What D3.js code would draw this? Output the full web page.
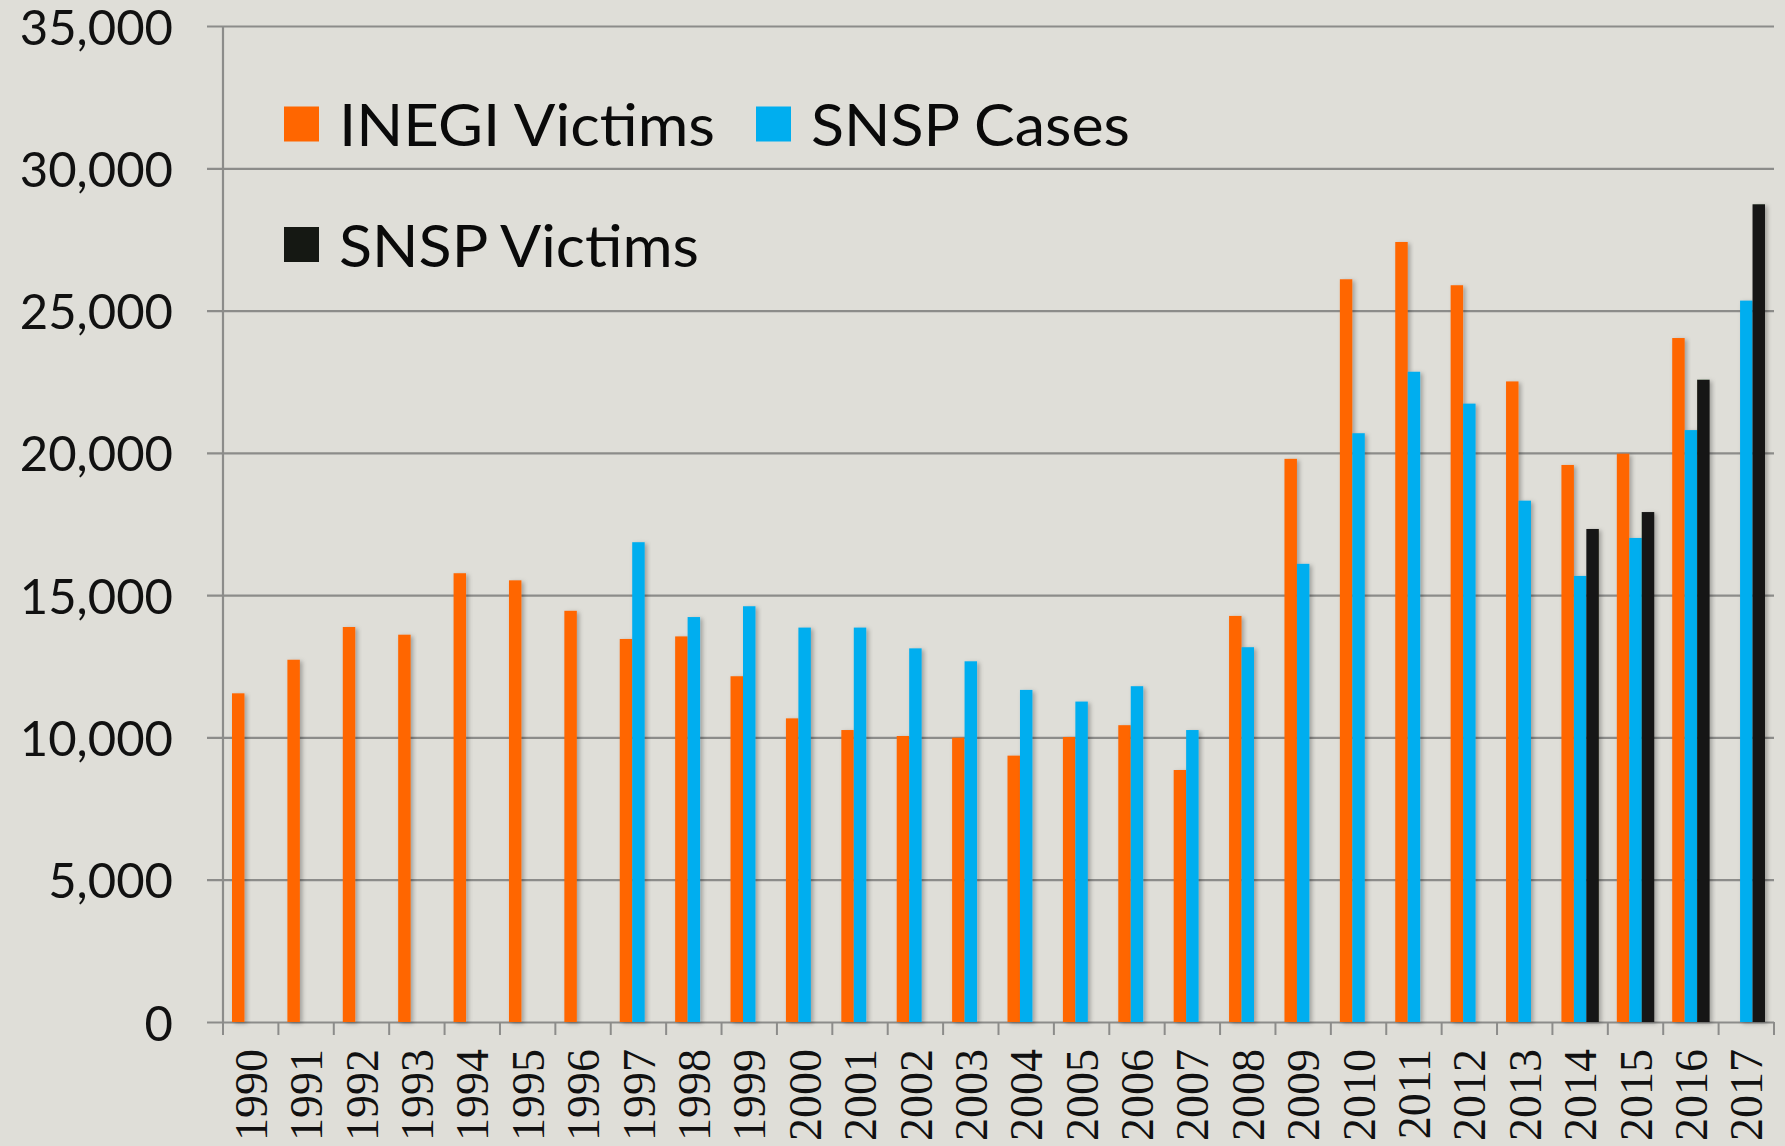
<!DOCTYPE html>
<html>
<head>
<meta charset="utf-8">
<script src="https://cdn.jsdelivr.net/npm/d3@7"></script>
<style>
  html, body { margin: 0; padding: 0; background: #dfded8; }
  svg { display: block; }
</style>
</head>
<body>
<svg id="chart" width="1785" height="1146"></svg>
<script>
const years = [1990,1991,1992,1993,1994,1995,1996,1997,1998,1999,2000,2001,2002,2003,2004,2005,2006,2007,2008,2009,2010,2011,2012,2013,2014,2015,2016,2017];
const inegiVictims = [11550,12730,13880,13610,15770,15520,14450,13460,13550,12150,10670,10260,10050,9990,9360,10015,10430,8855,14270,19790,26100,27410,25890,22510,19575,19970,24035,null];
const snspCases = [null,null,null,null,null,null,null,16860,14230,14610,13860,13860,13130,12675,11670,11260,11800,10260,13170,16100,20690,22850,21730,18320,15675,17010,20800,25350];
const snspVictims = [null,null,null,null,null,null,null,null,null,null,null,null,null,null,null,null,null,null,null,null,null,null,null,null,17325,17920,22570,28735];
const seriesNames = ["INEGI Victims","SNSP Cases","SNSP Victims"];
const seriesColors = ["#ff6600","#00aeef","#151813"];
const yTicks = [0,5000,10000,15000,20000,25000,30000,35000];

(function () {
const svg = d3.select("#chart");
const mLeft = 223, mRight = 1774, mTop = 26, mBottom = 1022;

const defs = svg.append("defs");
const f = defs.append("filter").attr("id","shadow").attr("x","-30%").attr("y","-5%").attr("width","180%").attr("height","115%");
f.append("feDropShadow").attr("dx",2.5).attr("dy",1.5).attr("stdDeviation",2).attr("flood-color","#000").attr("flood-opacity",0.28);

const y = d3.scaleLinear().domain([0,35000]).range([mBottom, mTop]);
const x0 = d3.scaleBand().domain(years).range([mLeft, mRight]).paddingInner(0.325).paddingOuter(0.1625);
const x1 = d3.scaleBand().domain(seriesNames).range([0, x0.bandwidth()]);
const xa = d3.scaleBand().domain(years).range([mLeft, mRight]);

// y axis with gridlines
const yAxis = svg.append("g").attr("transform", `translate(${mLeft},0)`)
  .call(d3.axisLeft(y).tickValues(yTicks).tickSizeInner(-(mRight-mLeft)).tickSizeOuter(0).tickPadding(50).tickFormat(d3.format(",")));
yAxis.select(".domain").remove();
yAxis.selectAll(".tick line").attr("x1",-16).attr("stroke","#8c8c8a").attr("stroke-width",2.2);
yAxis.selectAll(".tick text").attr("font-family","Lato, 'Open Sans', sans-serif").attr("font-size",49).attr("fill","#111").attr("dy","0.37em");

// vertical axis line
svg.append("line").attr("x1",mLeft).attr("x2",mLeft).attr("y1",mTop).attr("y2",mBottom)
  .attr("stroke","#8c8c8a").attr("stroke-width",2.2);

// x boundary ticks
svg.append("g").selectAll("line").data(years.concat(["end"])).join("line")
  .attr("x1", d => d === "end" ? mRight : xa(d)).attr("x2", d => d === "end" ? mRight : xa(d))
  .attr("y1", mBottom).attr("y2", mBottom + 13)
  .attr("stroke","#8c8c8a").attr("stroke-width",2);

// x labels
const xAxis = svg.append("g").attr("transform", `translate(0,${mBottom})`)
  .call(d3.axisBottom(xa).tickSize(0).tickPadding(0));
xAxis.select(".domain").remove();
xAxis.selectAll(".tick text")
  .attr("font-family","'Liberation Serif', 'DejaVu Serif', serif").attr("font-size",46).attr("fill","#111")
  .attr("text-anchor","end").attr("transform","translate(0,27) rotate(-90)")
  .attr("dy","0.35em").attr("y",0).attr("x",0);

// bars
const data = years.map((yr,i) => ({year: yr, values: [inegiVictims[i], snspCases[i], snspVictims[i]]}));
const groups = svg.append("g").selectAll("g").data(data).join("g")
  .attr("transform", d => `translate(${x0(d.year)},0)`);
groups.selectAll("rect").data(d => d.values.map((v,j) => ({name: seriesNames[j], v, c: seriesColors[j]})).filter(e => e.v != null))
  .join("rect")
  .attr("x", d => x1(d.name)).attr("width", x1.bandwidth())
  .attr("y", d => y(d.v)).attr("height", d => mBottom - y(d.v))
  .attr("fill", d => d.c).attr("filter","url(#shadow)");

// legend
const legendItems = [
  {name: seriesNames[0], color: seriesColors[0], sx: 284, base: 146, len: 376},
  {name: seriesNames[1], color: seriesColors[1], sx: 756, base: 146, len: 319},
  {name: seriesNames[2], color: seriesColors[2], sx: 284, base: 266.5, len: 360}
];
const lg = svg.append("g").selectAll("g").data(legendItems).join("g");
lg.append("rect").attr("x", d => d.sx).attr("y", d => d.base - 39.5).attr("width",35).attr("height",35).attr("fill", d => d.color);
lg.append("text").attr("x", d => d.sx + 55).attr("y", d => d.base)
  .attr("font-family","Lato, 'Open Sans', sans-serif").attr("font-size",59).attr("fill","#0a0a0a")
  .attr("textLength", d => d.len).attr("lengthAdjust","spacingAndGlyphs")
  .text(d => d.name);
})();
</script>
</body>
</html>
